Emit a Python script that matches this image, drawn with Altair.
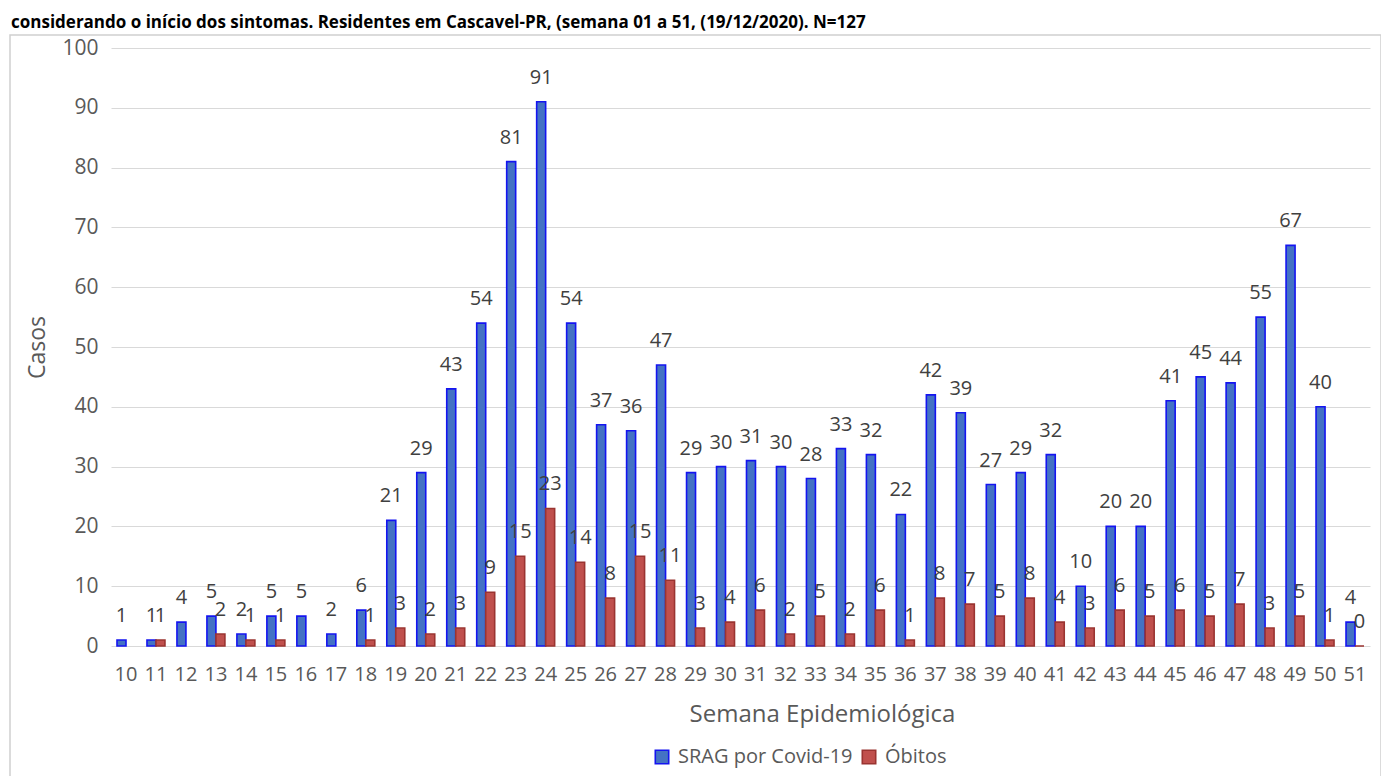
import altair as alt
import pandas as pd

semanas = list(range(10, 52))
srag = [1, 1, 4, 5, 2, 5, 5, 2, 6, 21, 29, 43, 54, 81, 91, 54, 37, 36, 47, 29,
        30, 31, 30, 28, 33, 32, 22, 42, 39, 27, 29, 32, 10, 20, 20, 41, 45, 44,
        55, 67, 40, 4]
obitos = [None, 1, None, 2, 1, 1, None, None, 1, 3, 2, 3, 9, 15, 23, 14, 8, 15,
          11, 3, 4, 6, 2, 5, 2, 6, 1, 8, 7, 5, 8, 4, 3, 6, 5, 6, 5, 7, 3, 5, 1, 0]
series = ["SRAG por Covid-19", "Óbitos"]
fill_colors = ["#4472C4", "#C0504D"]
stroke_colors = ["#1414F0", "#9A3431"]
titulo = ("considerando o início dos sintomas. Residentes em Cascavel-PR, "
          "(semana 01 a 51, (19/12/2020). N=127")

rows = []
for s, a, b in zip(semanas, srag, obitos):
    rows.append({"semana": s, "serie": series[0], "valor": a})
    if b is not None:
        rows.append({"semana": s, "serie": series[1], "valor": b})
df = pd.DataFrame(rows)

FONT = "Open Sans"
GRAY = "#595959"
TOP = 40
W, H = 1259, 598

x_enc = alt.X("semana:O", title="Semana Epidemiológica",
              scale=alt.Scale(paddingInner=0.4, paddingOuter=0.2),
              axis=alt.Axis(labelAngle=0, labelFontSize=20, labelColor=GRAY,
                            labelFont=FONT, titleFont=FONT, titleFontSize=24,
                            titleColor=GRAY, titleFontWeight="normal",
                            domain=False, ticks=False, labelPadding=18,
                            titlePadding=18, grid=False,
                            titleX=711, titleAnchor="middle", titleAlign="center"))
xoff = alt.XOffset("serie:N", scale=alt.Scale(domain=series))
y_enc = alt.Y("valor:Q", title="Casos",
              scale=alt.Scale(domain=[0, 100]),
              axis=alt.Axis(values=list(range(0, 101, 10)), labelFontSize=21,
                            labelColor=GRAY, labelFont=FONT, titleFont=FONT,
                            titleFontSize=23, titleColor=GRAY,
                            titleFontWeight="normal", domain=False, ticks=False,
                            labelPadding=13, titlePadding=12,
                            gridColor="#D9D9D9", gridWidth=1.2))

bars = alt.Chart(df).mark_bar(strokeWidth=1.6).encode(
    x=x_enc, xOffset=xoff, y=y_enc,
    fill=alt.Fill("serie:N", title=None,
                  scale=alt.Scale(domain=series, range=fill_colors),
                  legend=alt.Legend(orient="none", legendX=541, legendY=699,
                                    direction="horizontal", labelFont=FONT,
                                    labelFontSize=20, labelColor=GRAY,
                                    labelLimit=400,
                                    symbolType="square", symbolSize=180,
                                    symbolStrokeWidth=1.6, columnPadding=6,
                                    labelOffset=6)),
    stroke=alt.Stroke("serie:N", title=None,
                      scale=alt.Scale(domain=series, range=stroke_colors),
                      legend=None),
)

labels = alt.Chart(df).mark_text(baseline="bottom", dy=-14, fontSize=20,
                                 font=FONT, color="#404040").encode(
    x=alt.X("semana:O"), xOffset=xoff, y=alt.Y("valor:Q"),
    text=alt.Text("valor:Q"),
)

frame_df = pd.DataFrame({"k": [0]})
frame = alt.Chart(frame_df).mark_rect(fill=None, stroke="#D0D0D0",
                                      strokeWidth=1.5).encode(
    x=alt.value(-101), x2=alt.value(1270), y=alt.value(-13), y2=alt.value(760)
)

title_df = pd.DataFrame({"t": [titulo]})
title_txt = alt.Chart(title_df).mark_text(
    align="left", baseline="alphabetic", fontSize=17, fontWeight="bold",
    font=FONT, color="#000000").encode(
    x=alt.value(-100), y=alt.value(-20), text="t:N")

chart = alt.layer(frame, bars, labels, title_txt).properties(
    width=W, height=H,
    padding={"left": 103, "top": TOP, "right": 11, "bottom": 130},
    autosize=alt.AutoSizeParams(type="none"),
).configure(background="white").configure_view(stroke=None)

chart.save("out.html", embed_options={"renderer": "svg", "actions": False})
